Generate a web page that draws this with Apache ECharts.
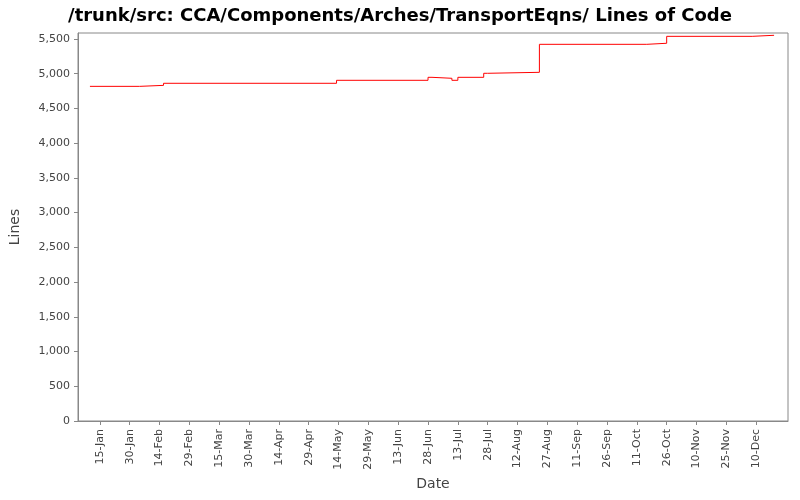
<!DOCTYPE html>
<html>
<head>
<meta charset="utf-8">
<script src="https://cdn.jsdelivr.net/npm/echarts@6/dist/echarts.min.js"></script>
<style>body{margin:0;background:#fff}#chart{width:800px;height:500px}</style>
</head>
<body>
<div id="chart"></div>
<script>
// change dates and line counts (2008, leap year: tick 29-Feb)
var dates = ['2008-01-10','2008-02-04','2008-02-16','2008-05-13','2008-06-28','2008-06-30','2008-07-10','2008-07-13',
             '2008-07-26','2008-07-28','2008-08-23','2008-10-16','2008-10-26','2008-12-08','2008-12-19'];
var lines = [4818,4832,4862,4905,4948,4934,4905,4948,5006,5020,5423,5438,5538,5553,5553];
var tickDates = ['2008-01-15','2008-01-30','2008-02-14','2008-02-29','2008-03-15','2008-03-30','2008-04-14','2008-04-29',
                 '2008-05-14','2008-05-29','2008-06-13','2008-06-28','2008-07-13','2008-07-28','2008-08-12','2008-08-27',
                 '2008-09-11','2008-09-26','2008-10-11','2008-10-26','2008-11-10','2008-11-25','2008-12-10'];
var months = ['Jan','Feb','Mar','Apr','May','Jun','Jul','Aug','Sep','Oct','Nov','Dec'];

var base = Date.UTC(2008, 0, 15);
function dayOf(s){
    var p = s.split('-');
    return (Date.UTC(+p[0], +p[1]-1, +p[2]) - base) / 86400000;
}
function labelOf(v){
    var d = new Date(base + v * 86400000);
    return d.getUTCDate() + '-' + months[d.getUTCMonth()];
}

// step line: hold previous value until the change date
var data = [];
for(var i = 0; i < dates.length; i++){
    if(i > 0) data.push([dayOf(dates[i]), lines[i-1]]);
    data.push([dayOf(dates[i]), lines[i]]);
}
var ticks = tickDates.map(dayOf);

var chart = echarts.init(document.getElementById('chart'));
chart.setOption({
    animation: false,
    title: {
        text: '/trunk/src: CCA/Components/Arches/TransportEqns/ Lines of Code',
        left: 'center', top: 2,
        textStyle: {fontFamily: 'DejaVu Sans', fontSize: 18, fontWeight: 'bold', color: '#000'}
    },
    grid: {left: 78, right: 12, top: 33, bottom: 79},
    xAxis: {
        type: 'value', min: -11, max: 346,
        name: 'Date', nameLocation: 'middle', nameGap: 52,
        nameTextStyle: {fontFamily: 'DejaVu Sans', fontSize: 14, color: '#444'},
        axisLine: {show: true, onZero: false, lineStyle: {color: '#888'}},
        axisTick: {show: true, customValues: ticks, length: 4, lineStyle: {color: '#888'}},
        axisLabel: {customValues: ticks, rotate: 90, fontFamily: 'DejaVu Sans', fontSize: 11, color: '#444',
            formatter: labelOf},
        splitLine: {show: false}
    },
    yAxis: {
        type: 'value', min: 0, max: 5586, interval: 500,
        name: 'Lines', nameLocation: 'middle', nameGap: 56,
        nameTextStyle: {fontFamily: 'DejaVu Sans', fontSize: 14, color: '#444'},
        axisLine: {show: true, onZero: false, lineStyle: {color: '#888'}},
        axisTick: {show: true, length: 4, lineStyle: {color: '#888'}},
        axisLabel: {fontFamily: 'DejaVu Sans', fontSize: 11, color: '#444', showMaxLabel: false,
            formatter: function(v){ return v.toLocaleString('en-US'); }},
        splitLine: {show: false}
    },
    series: [{
        type: 'line', data: data, symbol: 'none',
        lineStyle: {color: '#ff0000', width: 1}
    }],
    graphic: [{
        type: 'rect', shape: {x: 78, y: 33, width: 710, height: 388},
        style: {fill: 'none', stroke: '#888', lineWidth: 1}, silent: true
    }]
});
</script>
</body>
</html>
